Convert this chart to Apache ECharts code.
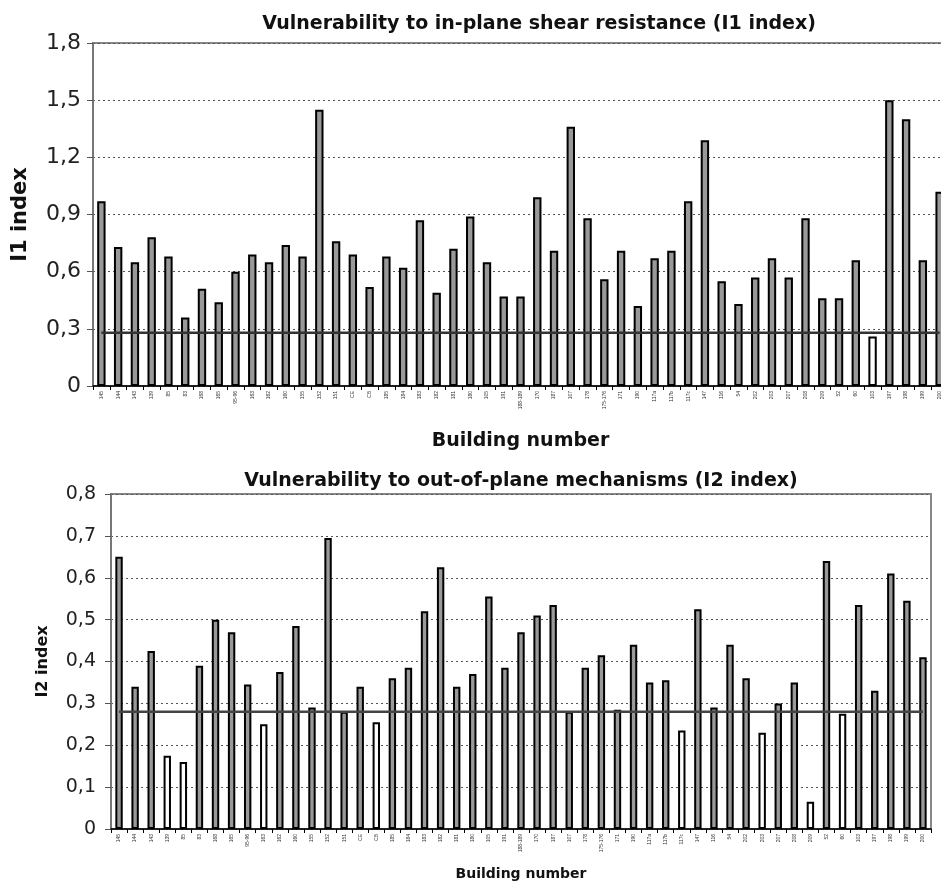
<!DOCTYPE html>
<html>
<head>
<meta charset="utf-8">
<script src="https://cdn.jsdelivr.net/npm/echarts@6/dist/echarts.min.js"></script>
<style>
  html, body { margin: 0; padding: 0; background: #fff; overflow: hidden; }
  /* the top plot runs past the right edge of the picture, so the box is a bit wider than the window */
  #chart { width: 960px; height: 884px; }
</style>
</head>
<body>
<div id="chart"></div>
<script>
// building numbers (same order in both charts)
const buildings = ['145', '144', '143', '139', '85', '83', '168', '165', '95-96', '163', '162', '160', '155', '152', '151', 'CE', 'CB',
  '185', '184', '183', '182', '181', '180', '105', '191', '188-189', '170', '187', '107', '178', '175-176', '171', '190',
  '117a', '117b', '117c', '147', '116', '54', '202', '203', '207', '208', '209', '52', '60', '103', '197', '198', '199', '200']

// I1 index - in-plane shear resistance
const i1Values = [0.97, 0.73, 0.65, 0.78, 0.68, 0.36, 0.51, 0.44, 0.60, 0.69, 0.65, 0.74, 0.68, 1.45, 0.76, 0.69, 0.52,
  0.68, 0.62, 0.87, 0.49, 0.72, 0.89, 0.65, 0.47, 0.47, 0.99, 0.71, 1.36, 0.88, 0.56, 0.71, 0.42,
  0.67, 0.71, 0.97, 1.29, 0.55, 0.43, 0.57, 0.67, 0.57, 0.88, 0.46, 0.46, 0.66, 0.26, 1.50, 1.40, 0.66, 1.02]

// I2 index - out-of-plane mechanisms
const i2Values = [0.65, 0.34, 0.425, 0.175, 0.16, 0.39, 0.50, 0.47, 0.345, 0.25, 0.375, 0.485, 0.29, 0.695, 0.28, 0.34, 0.255,
  0.36, 0.385, 0.52, 0.625, 0.34, 0.37, 0.555, 0.385, 0.47, 0.51, 0.535, 0.28, 0.385, 0.415, 0.285, 0.44,
  0.35, 0.355, 0.235, 0.525, 0.29, 0.44, 0.36, 0.23, 0.30, 0.35, 0.065, 0.64, 0.275, 0.535, 0.33, 0.61, 0.545, 0.41]

// threshold line drawn on both charts
const threshold = 0.28

const chart = echarts.init(document.getElementById('chart'))

const font = 'DejaVu Sans'
const fmt = v => v === 0 ? '0' : v.toFixed(1).replace('.', ',')
const barColor = p => p.value < threshold ? '#ffffff' : '#999999'
const lineData = buildings.map(() => threshold)

const xAxisBase = {
  type: 'category',
  data: buildings,
  axisLine: { lineStyle: { color: '#000', width: 1.5 } },
  axisTick: { show: true, length: 4, lineStyle: { color: '#000' } },
  axisLabel: { interval: 0, rotate: 90, fontSize: 5, margin: 5, color: '#333', fontFamily: 'Liberation Sans' },
  nameLocation: 'middle'
}
const yAxisBase = {
  type: 'value',
  min: 0,
  axisLine: { show: true, lineStyle: { color: '#777', width: 2 } },
  axisTick: { show: true, length: 6, lineStyle: { color: '#555' } },
  splitLine: { show: true, lineStyle: { color: '#555', type: [2, 3], width: 1 } },
  nameLocation: 'middle',
  nameRotate: 90
}

const option = {
  animation: false,
  backgroundColor: '#fff',
  title: [
    {
      text: 'Vulnerability to in-plane shear resistance (I1 index)',
      left: 534, top: 10, textAlign: 'center',
      textStyle: { fontSize: 19, fontWeight: 'bold', color: '#111', fontFamily: font }
    },
    {
      text: 'Vulnerability to out-of-plane mechanisms (I2 index)',
      left: 516, top: 467, textAlign: 'center',
      textStyle: { fontSize: 19, fontWeight: 'bold', color: '#111', fontFamily: font }
    }
  ],
  grid: [
    { left: 93, top: 43, width: 855, height: 343, show: true, borderColor: '#888', borderWidth: 2 },
    { left: 111, top: 494, width: 820, height: 335, show: true, borderColor: '#888', borderWidth: 2 }
  ],
  xAxis: [
    Object.assign({}, xAxisBase, { gridIndex: 0, name: 'Building number', nameGap: 46,
      nameTextStyle: { fontSize: 19, fontWeight: 'bold', color: '#111', fontFamily: font } }),
    Object.assign({}, xAxisBase, { gridIndex: 1, name: 'Building number', nameGap: 38,
      nameTextStyle: { fontSize: 14, fontWeight: 'bold', color: '#111', fontFamily: font } })
  ],
  yAxis: [
    Object.assign({}, yAxisBase, { gridIndex: 0, max: 1.8, interval: 0.3, name: 'I1 index', nameGap: 62,
      nameTextStyle: { fontSize: 21, fontWeight: 'bold', color: '#111', fontFamily: font },
      axisLabel: { formatter: fmt, fontSize: 22, margin: 12, color: '#222', fontFamily: font } }),
    Object.assign({}, yAxisBase, { gridIndex: 1, max: 0.8, interval: 0.1, name: 'I2 index', nameGap: 60,
      nameTextStyle: { fontSize: 16, fontWeight: 'bold', color: '#111', fontFamily: font },
      axisLabel: { formatter: fmt, fontSize: 19, margin: 15, color: '#222', fontFamily: font } })
  ],
  series: [
    {
      type: 'bar', xAxisIndex: 0, yAxisIndex: 0, data: i1Values, barWidth: '50%',
      itemStyle: { color: barColor, borderColor: '#000', borderWidth: 2 }
    },
    {
      type: 'line', xAxisIndex: 0, yAxisIndex: 0, data: lineData, symbol: 'none', z: 5,
      lineStyle: { color: '#333', width: 2.5 }
    },
    {
      type: 'bar', xAxisIndex: 1, yAxisIndex: 1, data: i2Values, barWidth: '46%',
      itemStyle: { color: barColor, borderColor: '#000', borderWidth: 2 }
    },
    {
      type: 'line', xAxisIndex: 1, yAxisIndex: 1, data: lineData, symbol: 'none', z: 5,
      lineStyle: { color: '#444', width: 2.5 }
    }
  ]
}

chart.setOption(option)
</script>
</body>
</html>
